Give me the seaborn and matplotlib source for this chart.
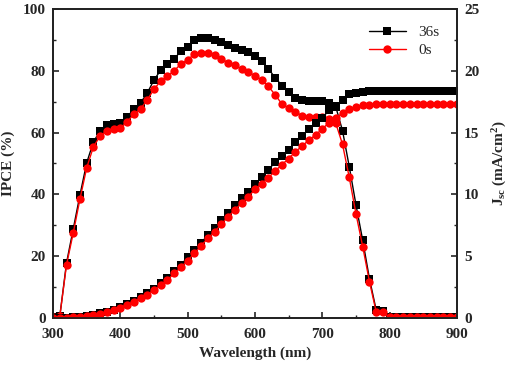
import numpy as np
import pandas as pd
import seaborn as sns
import matplotlib
matplotlib.use("Agg")
import matplotlib.pyplot as plt
from matplotlib.ticker import MultipleLocator
from matplotlib.lines import Line2D

wavelength = list(range(300, 910, 10))

ipce_36s = [0.3, 0.5, 17.8, 28.8, 39.8, 50.2, 57.0, 60.5, 62.3, 62.8,
            63.0, 65.0, 67.6, 69.6, 72.8, 77.0, 80.2, 82.2, 83.8, 86.4,
            87.7, 90.0, 90.6, 90.5, 90.0, 89.3, 88.3, 87.4, 86.6, 85.9,
            84.7, 83.0, 80.6, 77.7, 75.2, 73.2, 71.3, 70.6, 70.3, 70.3,
            70.2, 69.5, 68.3, 60.6, 49.0, 36.6, 25.1, 12.7, 2.6, 2.3,
            0.4, 0.2, 0.2, 0.2, 0.2, 0.2, 0.2, 0.2, 0.2, 0.2, 0.2]

ipce_0s = [0.3, 0.5, 17.2, 27.5, 38.5, 48.6, 55.4, 58.9, 60.5, 61.2,
           61.5, 63.4, 66.0, 67.6, 70.6, 74.0, 76.7, 78.3, 80.0, 82.2,
           83.5, 85.4, 85.8, 85.6, 85.0, 83.8, 82.6, 81.7, 80.6, 79.5,
           78.4, 77.0, 74.9, 72.2, 69.2, 67.9, 66.6, 65.5, 65.1, 65.1,
           65.0, 64.4, 63.0, 56.2, 45.5, 33.7, 23.1, 11.8, 2.0, 1.8,
           0.3, 0.2, 0.2, 0.2, 0.2, 0.2, 0.2, 0.2, 0.2, 0.2, 0.2]

jsc_36s = [0.0, 0.01, 0.03, 0.06, 0.10, 0.17, 0.26, 0.38, 0.52, 0.68,
           0.88, 1.12, 1.38, 1.68, 2.00, 2.37, 2.80, 3.27, 3.78, 4.32,
           4.90, 5.50, 6.10, 6.70, 7.30, 7.90, 8.50, 9.10, 9.70, 10.20,
           10.80, 11.40, 12.00, 12.60, 13.10, 13.60, 14.20, 14.70, 15.30, 15.80,
           16.20, 16.80, 17.15, 17.60, 18.10, 18.20, 18.30, 18.33, 18.35, 18.35,
           18.35, 18.35, 18.35, 18.35, 18.35, 18.35, 18.35, 18.35, 18.35, 18.35, 18.35]

jsc_0s = [0.0, 0.01, 0.03, 0.06, 0.10, 0.16, 0.25, 0.36, 0.50, 0.65,
          0.85, 1.07, 1.32, 1.60, 1.90, 2.25, 2.65, 3.10, 3.60, 4.10,
          4.65, 5.23, 5.85, 6.45, 6.98, 7.58, 8.20, 8.74, 9.28, 9.81,
          10.40, 10.85, 11.35, 11.90, 12.40, 12.90, 13.45, 13.90, 14.40, 14.80,
          15.30, 15.80, 16.15, 16.60, 16.90, 17.10, 17.20, 17.25, 17.27, 17.27,
          17.27, 17.27, 17.27, 17.27, 17.27, 17.27, 17.27, 17.27, 17.27, 17.27, 17.27]

series_labels = ["36s", "0s"]
series_colors = ["black", "#ff0000"]
series_markers = ["s", "o"]

df = pd.DataFrame({
    "wavelength": wavelength * 2,
    "ipce": ipce_36s + ipce_0s,
    "jsc": jsc_36s + jsc_0s,
    "sample": ["36s"] * len(wavelength) + ["0s"] * len(wavelength),
})

sns.set_style("ticks")
plt.rcParams["font.family"] = ["Liberation Serif", "DejaVu Serif"]
plt.rcParams["font.weight"] = "bold"
plt.rcParams["mathtext.fontset"] = "custom"
plt.rcParams["mathtext.rm"] = "Liberation Serif:bold"
plt.rcParams["mathtext.it"] = "Liberation Serif:italic:bold"
plt.rcParams["mathtext.bf"] = "Liberation Serif:bold"

fig = plt.figure(figsize=(5.10, 3.70), dpi=100)
ax = fig.add_axes([0.104, 0.1405, 0.792, 0.8355])
ax2 = ax.twinx()

sizes = {"36s": 5.4, "0s": 6.0}
for lab, col, mk in zip(series_labels, series_colors, series_markers):
    sub = df[df["sample"] == lab]
    sns.lineplot(data=sub, x="wavelength", y="ipce", ax=ax, color=col,
                 marker=mk, markersize=sizes[lab], markeredgewidth=0,
                 linewidth=1.0, estimator=None, sort=False, legend=False)
for lab, col, mk in zip(series_labels, series_colors, series_markers):
    sub = df[df["sample"] == lab]
    sns.lineplot(data=sub, x="wavelength", y="jsc", ax=ax2, color=col,
                 marker=mk, markersize=sizes[lab], markeredgewidth=0,
                 linewidth=1.0, estimator=None, sort=False, legend=False)

ax.set_xlim(300, 900)
ax.set_ylim(0, 100)
ax2.set_ylim(0, 25)

ax.xaxis.set_major_locator(MultipleLocator(100))
ax.xaxis.set_minor_locator(MultipleLocator(50))
ax.yaxis.set_major_locator(MultipleLocator(20))
ax.yaxis.set_minor_locator(MultipleLocator(10))
ax2.yaxis.set_major_locator(MultipleLocator(5))
ax2.yaxis.set_minor_locator(MultipleLocator(2.5))

for a in (ax, ax2):
    a.tick_params(which="major", direction="in", length=4, width=1.2,
                  labelsize=11, pad=5)
    a.tick_params(which="minor", direction="in", length=2.5, width=1.0)
    for s in a.spines.values():
        s.set_linewidth(1.3)
        s.set_color("#222222")
ax.tick_params(axis="x", which="major", pad=7)
ax.tick_params(top=False, right=False, which="both")
ax2.tick_params(left=False, which="both")

for lbl in ax.get_xticklabels() + ax.get_yticklabels() + ax2.get_yticklabels():
    lbl.set_fontweight("bold")

ax.set_xlabel("Wavelength (nm)", fontsize=11, fontweight="bold", labelpad=4)
ax.set_ylabel("IPCE (%)", fontsize=11, fontweight="bold", labelpad=6)
ax2.set_ylabel(r"J$_{\mathrm{sc}}$ (mA/cm$^{\mathrm{2}}$)", fontsize=11,
               fontweight="bold", labelpad=8)

handles = [Line2D([0], [0], color=c, marker=m, markersize=sizes[l],
                  markeredgewidth=0, linewidth=1.0)
           for l, c, m in zip(series_labels, series_colors, series_markers)]
leg = ax.legend(handles, series_labels, loc="upper right", frameon=False,
                fontsize=11, handlelength=2.4, borderaxespad=0.5,
                labelspacing=0.25, bbox_to_anchor=(0.99, 0.99))
for t in leg.get_texts():
    t.set_fontweight("normal")

fig.savefig("out.png", dpi=100)
